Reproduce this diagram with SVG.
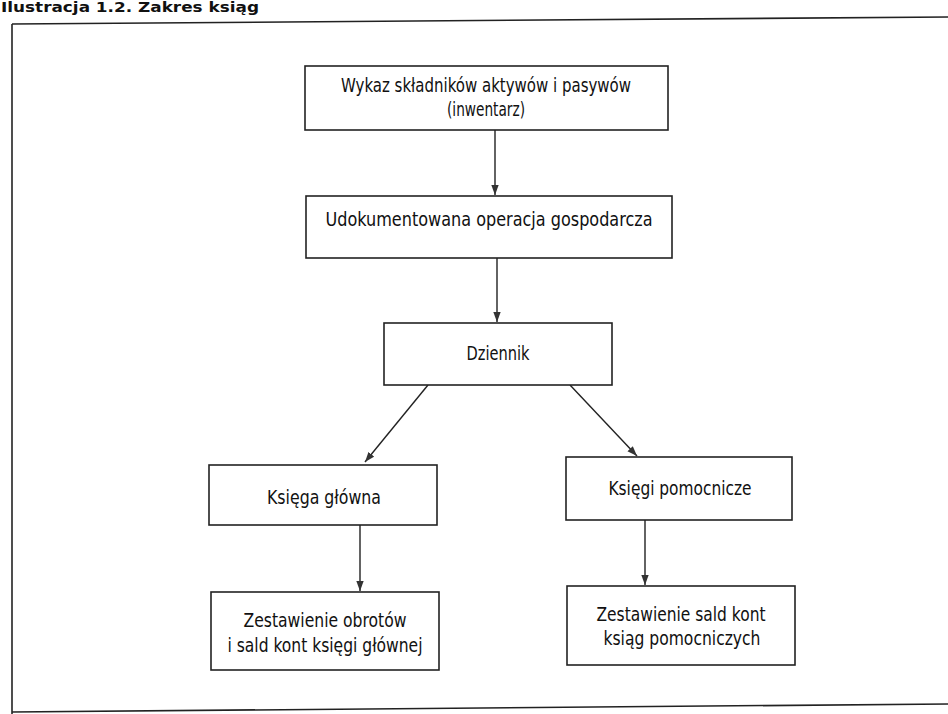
<svg xmlns="http://www.w3.org/2000/svg" width="948" height="714" viewBox="0 0 948 714">
<style>
.box{fill:#fff;stroke:#222;stroke-width:1.6}
.frame{fill:none;stroke:#222;stroke-width:1.6}
.conn{fill:none;stroke:#222;stroke-width:1.4;marker-end:url(#arr)}
text{font-family:"Liberation Sans Narrow","DejaVu Sans Condensed","Liberation Sans",sans-serif;font-size:20px;fill:#111;text-anchor:middle}
.title{font-weight:bold;font-size:14px;text-anchor:start}
</style>
<defs>
<marker id="arr" markerUnits="userSpaceOnUse" markerWidth="10" markerHeight="9" refX="10" refY="4.5" orient="auto">
<path d="M0,0.8 L10,4.5 L0,8.2 z" fill="#333"/>
</marker>
</defs>
<rect width="948" height="714" fill="#fff"/>
<text class="title" x="1" y="12" textLength="258" lengthAdjust="spacingAndGlyphs">Ilustracja 1.2. Zakres ksiąg</text>
<g id="frame">
<line class="frame" x1="12" y1="24" x2="948" y2="17"/>
<line class="frame" x1="12" y1="24" x2="12" y2="714"/>
<line class="frame" x1="12" y1="712" x2="948" y2="704"/>
</g>
<g id="connectors">
<line class="conn" x1="495" y1="130" x2="495" y2="195"/>
<line class="conn" x1="497" y1="258" x2="497" y2="322"/>
<line class="conn" x1="428" y1="385" x2="365" y2="462"/>
<line class="conn" x1="570" y1="385" x2="637" y2="456"/>
<line class="conn" x1="360" y1="525" x2="360" y2="591"/>
<line class="conn" x1="645" y1="520" x2="645" y2="585"/>
</g>
<g id="inwentarz">
<rect class="box" x="305" y="66" width="363" height="64"/>
<text x="486" y="92" textLength="290" lengthAdjust="spacingAndGlyphs">Wykaz składników aktywów i pasywów</text>
<text x="486" y="116" textLength="78" lengthAdjust="spacingAndGlyphs">(inwentarz)</text>
</g>
<g id="operacja">
<rect class="box" x="306" y="196" width="366" height="62"/>
<text x="489" y="226" textLength="327" lengthAdjust="spacingAndGlyphs">Udokumentowana operacja gospodarcza</text>
</g>
<g id="dziennik">
<rect class="box" x="384" y="323" width="228" height="62"/>
<text x="498" y="360" textLength="63" lengthAdjust="spacingAndGlyphs">Dziennik</text>
</g>
<g id="ksiega-glowna">
<rect class="box" x="209" y="465" width="228" height="60"/>
<text x="324" y="504" textLength="114" lengthAdjust="spacingAndGlyphs">Księga główna</text>
</g>
<g id="ksiegi-pomocnicze">
<rect class="box" x="566" y="457" width="226" height="63"/>
<text x="680" y="495" textLength="143" lengthAdjust="spacingAndGlyphs">Księgi pomocnicze</text>
</g>
<g id="zestawienie-obrotow">
<rect class="box" x="211" y="592" width="228" height="78"/>
<text x="325" y="627" textLength="163" lengthAdjust="spacingAndGlyphs">Zestawienie obrotów</text>
<text x="325" y="652" textLength="195" lengthAdjust="spacingAndGlyphs">i sald kont księgi głównej</text>
</g>
<g id="zestawienie-sald">
<rect class="box" x="567" y="586" width="228" height="79"/>
<text x="681" y="621" textLength="169" lengthAdjust="spacingAndGlyphs">Zestawienie sald kont</text>
<text x="682" y="645" textLength="157" lengthAdjust="spacingAndGlyphs">ksiąg pomocniczych</text>
</g>
</svg>
